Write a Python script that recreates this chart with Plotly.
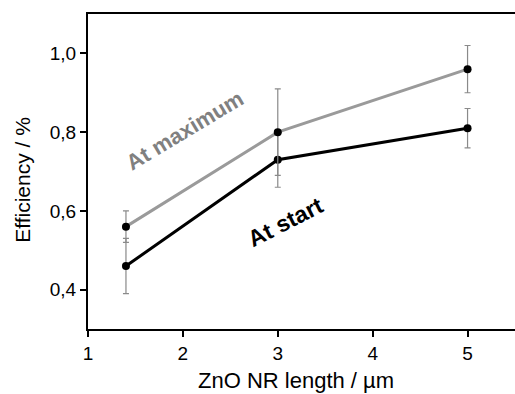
import plotly.graph_objects as go

# ZnO nanorod length (µm) and cell efficiency (%)
nr_length = [1.4, 3.0, 5.0]
eff_max = [0.56, 0.80, 0.96]
eff_max_err = [0.04, 0.11, 0.06]
eff_start = [0.46, 0.73, 0.81]
eff_start_err = [0.07, 0.07, 0.05]

x_ticks = [1, 2, 3, 4, 5]
y_ticks = [0.4, 0.6, 0.8, 1.0]
y_tick_text = ["0,4", "0,6", "0,8", "1,0"]

FONT = "Liberation Sans, Arial, sans-serif"

fig = go.Figure()

# "at start" series drawn first so the upper markers sit on top of its error bars
fig.add_trace(go.Scatter(
    x=nr_length, y=eff_start, mode="lines+markers",
    line=dict(color="black", width=3),
    marker=dict(color="black", size=8),
    error_y=dict(type="data", array=eff_start_err, color="#8a8a8a",
                 thickness=1.2, width=3),
    showlegend=False,
))
fig.add_trace(go.Scatter(
    x=nr_length, y=eff_max, mode="lines+markers",
    line=dict(color="#9a9a9a", width=3),
    marker=dict(color="black", size=8),
    error_y=dict(type="data", array=eff_max_err, color="#8a8a8a",
                 thickness=1.2, width=3),
    showlegend=False,
))

fig.add_annotation(x=2.02, y=0.803, xref="x", yref="y", text="<b>At maximum</b>",
                   showarrow=False, textangle=-31, xanchor="center", yanchor="middle",
                   font=dict(family=FONT, size=22, color="#808080"))
fig.add_annotation(x=3.08, y=0.572, xref="x", yref="y", text="<b>At start</b>",
                   showarrow=False, textangle=-27, xanchor="center", yanchor="middle",
                   font=dict(family=FONT, size=23, color="black"))

# axis titles
fig.add_annotation(x=-0.155, y=0.473, xref="paper", yref="paper",
                   text="Efficiency / %", showarrow=False, textangle=-90,
                   xanchor="center", yanchor="middle",
                   font=dict(family=FONT, size=21, color="black"))
fig.add_annotation(x=0.488, y=-0.162, xref="paper", yref="paper",
                   text="ZnO NR length / µm", showarrow=False,
                   xanchor="center", yanchor="middle",
                   font=dict(family=FONT, size=22, color="black"))

fig.update_xaxes(
    range=[1, 5.5], tickvals=x_ticks, ticks="outside", ticklen=6, tickwidth=2,
    tickcolor="black", showline=True, linecolor="black", linewidth=2,
    mirror=True, showgrid=False, zeroline=False,
    tickfont=dict(family=FONT, size=19, color="black"),
)
fig.update_yaxes(
    range=[0.3, 1.1], tickvals=y_ticks, ticktext=y_tick_text, ticks="outside",
    ticklen=6, tickwidth=2, tickcolor="black", showline=True,
    linecolor="black", linewidth=2, showgrid=False, zeroline=False,
    tickfont=dict(family=FONT, size=19, color="black"),
)

fig.update_layout(
    width=515, height=394,
    margin=dict(l=88, r=0, t=14, b=65),
    plot_bgcolor="white", paper_bgcolor="white",
    font=dict(family=FONT, color="black"),
)

fig.write_html("out.html")
